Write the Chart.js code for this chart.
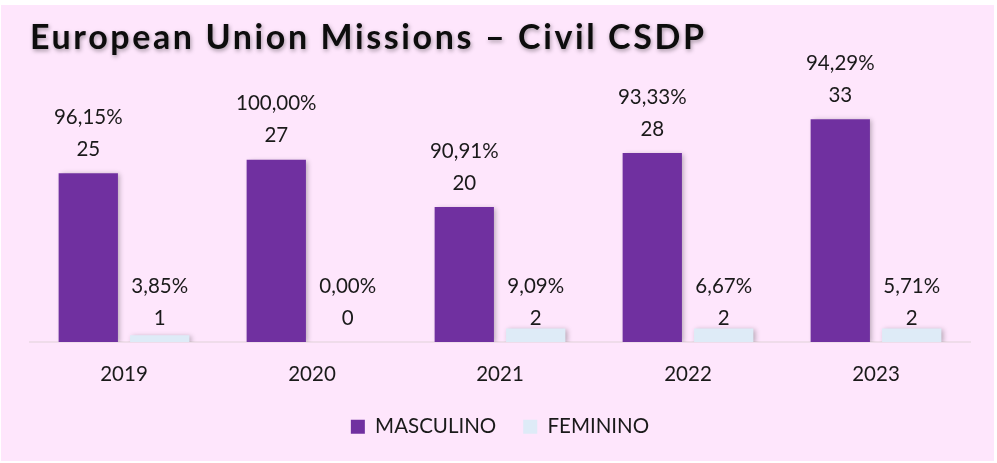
<!DOCTYPE html>
<html>
<head>
<meta charset="utf-8">
<script src="https://cdn.jsdelivr.net/npm/chart.js@4.4.1/dist/chart.umd.min.js"></script>
<style>
    html, body { margin: 0; padding: 0; background: #ffffff; }
    #panel {
        position: absolute; left: 1px; top: 5px;
        width: 993px; height: 456px;
        background: #fee6fc;
    }
    #chart { display: block; }
</style>
</head>
<body>
<div id="panel"><canvas id="chart" width="993" height="456"></canvas></div>
<script>
const titleText = 'European Union Missions – Civil CSDP';
const years = ['2019', '2020', '2021', '2022', '2023'];
const masculino = [25, 27, 20, 28, 33];
const feminino = [1, 0, 2, 2, 2];
const pctMasculino = ['96,15%', '100,00%', '90,91%', '93,33%', '94,29%'];
const pctFeminino = ['3,85%', '0,00%', '9,09%', '6,67%', '5,71%'];

const FONT = 'Lato, "Open Sans", sans-serif';
const TXT = 20.5;

// Title with letter spacing and soft shadow
const titlePlugin = {
    id: 'titleDraw',
    afterDraw(chart) {
        const ctx = chart.ctx;
        ctx.save();
        ctx.font = 'bold 34px ' + FONT;
        ctx.letterSpacing = '2.6px';
        ctx.fillStyle = '#0d0d0d';
        ctx.textBaseline = 'alphabetic';
        ctx.shadowColor = 'rgba(0,0,0,0.35)';
        ctx.shadowBlur = 4;
        ctx.shadowOffsetX = 1;
        ctx.shadowOffsetY = 2;
        ctx.fillText(titleText, 29, 44);
        ctx.restore();
    }
};

// Bar shadow
const shadowPlugin = {
    id: 'barShadow',
    beforeDatasetsDraw(chart) {
        const ctx = chart.ctx;
        ctx.save();
        ctx.shadowColor = 'rgba(0,0,0,0.28)';
        ctx.shadowBlur = 5;
        ctx.shadowOffsetX = 2;
        ctx.shadowOffsetY = 1;
    },
    afterDatasetsDraw(chart) {
        chart.ctx.restore();
    }
};

// Two-line labels: percentage above count
const labelPlugin = {
    id: 'twoLineLabels',
    afterDatasetsDraw(chart) {
        const ctx = chart.ctx;
        ctx.save();
        ctx.font = TXT + 'px ' + FONT;
        ctx.fillStyle = '#1a1a1a';
        ctx.textAlign = 'center';
        ctx.textBaseline = 'middle';
        chart.data.datasets.forEach((ds, di) => {
            const meta = chart.getDatasetMeta(di);
            const pcts = di === 0 ? pctMasculino : pctFeminino;
            meta.data.forEach((bar, i) => {
                const anchor = di === 0 ? bar.y : bar.base;
                ctx.fillText(String(ds.data[i]), bar.x, anchor - 24);
                ctx.fillText(pcts[i], bar.x, anchor - 56);
            });
        });
        ctx.restore();
    }
};

new Chart(document.getElementById('chart'), {
    type: 'bar',
    data: {
        labels: years,
        datasets: [
            {
                label: 'MASCULINO',
                data: masculino,
                backgroundColor: '#7030a0',
                borderWidth: 0,
                categoryPercentage: 0.76,
                barPercentage: 0.83
            },
            {
                label: 'FEMININO',
                data: feminino,
                backgroundColor: '#deebf7',
                borderWidth: 0,
                categoryPercentage: 0.76,
                barPercentage: 0.83
            }
        ]
    },
    options: {
        responsive: false,
        animation: false,
        layout: { padding: { left: 29, right: 24, top: 67, bottom: 14 } },
        plugins: {
            legend: {
                position: 'bottom',
                labels: {
                    font: { size: TXT, family: FONT },
                    color: '#1a1a1a',
                    boxWidth: 14,
                    boxHeight: 14,
                    padding: 27
                }
            },
            title: { display: false },
            tooltip: { enabled: false }
        },
        scales: {
            x: {
                grid: { display: false, drawTicks: false },
                border: { display: true, color: '#efdcea', width: 2 },
                ticks: {
                    font: { size: TXT, family: FONT },
                    color: '#1a1a1a',
                    padding: 20
                },
                afterFit(scale) { scale.height -= 17; }
            },
            y: {
                display: false,
                min: 0,
                max: 40
            }
        }
    },
    plugins: [shadowPlugin, labelPlugin, titlePlugin]
});
</script>
</body>
</html>
